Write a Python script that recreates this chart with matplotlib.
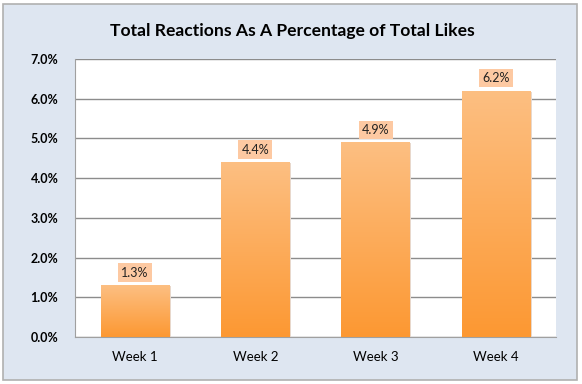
import numpy as np
import matplotlib.pyplot as plt
from matplotlib.patches import Rectangle
from matplotlib.colors import LinearSegmentedColormap

# data
weeks = ['Week 1', 'Week 2', 'Week 3', 'Week 4']
pct = [1.3, 4.4, 4.9, 6.2]
yticks = [0, 1, 2, 3, 4, 5, 6, 7]

bg = '#dee6f1'
fam = ['Lato', 'DejaVu Sans']

fig = plt.figure(figsize=(5.82, 3.84), dpi=100)
fig.patch.set_facecolor('white')
# outer chart frame
fig.patches.append(Rectangle((3 / 582, 4 / 384), 574 / 582, 376 / 384,
                             transform=fig.transFigure, facecolor=bg,
                             edgecolor='#b0b0b0', linewidth=1.2, zorder=-5))

ax = fig.add_axes([75 / 582, 47 / 384, 481 / 582, 278 / 384])
ax.set_facecolor('white')

x = np.arange(len(weeks))
bars = ax.bar(x, pct, width=0.57, color='none', edgecolor='none', zorder=3)

# vertical orange gradient inside each bar
grad = np.linspace(0, 1, 256).reshape(-1, 1)
cmap = LinearSegmentedColormap.from_list('og', ['#fc9832', '#fdbf82'])
for b in bars:
    x0, w, h = b.get_x(), b.get_width(), b.get_height()
    # faint shadow
    ax.add_patch(Rectangle((x0 + 0.012, 0), w, h - 0.02, facecolor='#e8d8cc',
                           edgecolor='none', zorder=2))
    im = ax.imshow(grad, extent=(x0, x0 + w, 0, h), origin='lower',
                   cmap=cmap, aspect='auto', zorder=3)
    im.set_clip_path(b)

for xi, v in zip(x, pct):
    ax.text(xi, v + 0.17, f'{v:.1f}%', ha='center', va='bottom', fontsize=9,
            family=fam, color='#222222', zorder=5,
            bbox=dict(boxstyle='square,pad=0.25', facecolor='#fdc9a2',
                      edgecolor='none'))

ax.set_xlim(-0.5, len(weeks) - 0.5)
ax.set_ylim(0, 7)
ax.set_yticks(yticks)
ax.set_yticklabels([f'{t:.1f}%' for t in yticks], fontsize=9, fontweight='bold',
                   family=fam)
ax.set_xticks(x)
ax.set_xticklabels(weeks, fontsize=9.5, family=fam)
ax.tick_params(length=0, pad=10)
ax.tick_params(axis='y', pad=12)
ax.yaxis.grid(True, color='#8c8c8c', linewidth=1)
ax.set_axisbelow(True)
for s in ['top', 'right']:
    ax.spines[s].set_visible(False)
ax.spines['left'].set_color('#a0a0a0')
ax.spines['bottom'].set_color('#a0a0a0')

fig.text(292 / 582, 1 - 31 / 384, 'Total Reactions As A Percentage of Total Likes',
         ha='center', va='center', fontsize=12.6, fontweight='bold', family=fam)

fig.savefig('out.png', dpi=100, facecolor=fig.get_facecolor())
